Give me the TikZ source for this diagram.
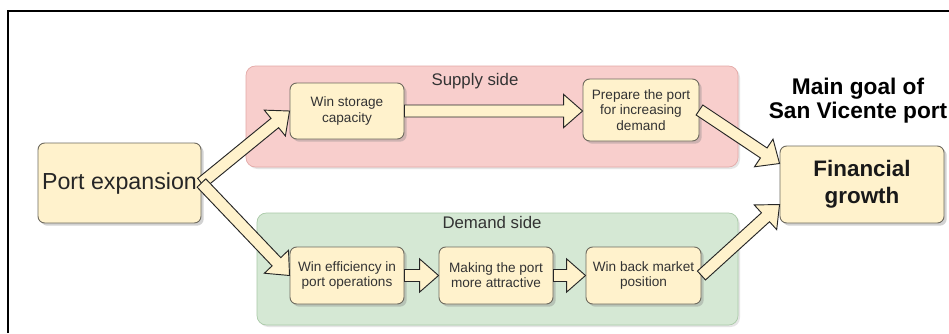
\documentclass[tikz,border=0pt]{standalone}
\usepackage{fontspec}
\setmainfont{Liberation Sans}
\usetikzlibrary{calc,shadows}
\definecolor{boxfill}{HTML}{FFF2CC}
\definecolor{boxline}{HTML}{6E6A5E}
\definecolor{pinkfill}{HTML}{F8CECC}
\definecolor{pinkline}{HTML}{E3A9A7}
\definecolor{greenfill}{HTML}{D5E8D4}
\definecolor{greenline}{HTML}{A9C9A7}
\definecolor{txt}{HTML}{333333}
\tikzset{
  region/.style={rounded corners=7pt, line width=0.5pt,
    drop shadow={shadow xshift=1.5pt, shadow yshift=-1.5pt, opacity=0.25, fill=black!40}},
  stepbox/.style={draw=boxline, fill=boxfill, rounded corners=5pt, line width=0.7pt,
    align=center, text=txt, inner sep=2pt,
    drop shadow={shadow xshift=2pt, shadow yshift=-2pt, opacity=0.35, fill=black!50}},
  smalltext/.style={font=\fontsize{10.2}{11.4}\selectfont},
  bigarrow/.style={draw=black!85, fill=boxfill, line width=0.7pt, line join=miter},
}
\newcommand\blockarr[2]{%
  \path (#1) coordinate (ba-s) (#2) coordinate (ba-e);
  \path ($(ba-e)!14.25pt!(ba-s)$) coordinate (ba-m);
  \draw[bigarrow] ($(ba-s)!4.5pt!90:(ba-e)$) -- ($(ba-m)!4.5pt!90:(ba-e)$)
    -- ($(ba-m)!12.5pt!90:(ba-e)$) -- (ba-e) -- ($(ba-m)!12.5pt!-90:(ba-e)$)
    -- ($(ba-m)!4.5pt!-90:(ba-e)$) -- ($(ba-s)!4.5pt!-90:(ba-e)$) -- cycle;
}
\begin{document}
\begin{tikzpicture}[x=0.75pt,y=-0.75pt]
\useasboundingbox (0,0) rectangle (949,333);
\fill[white] (0,0) rectangle (949,333);
\draw[line width=1.3pt] (8,333) -- (8,11) -- (949,11);

% regions
\node[region, draw=pinkline, fill=pinkfill, minimum width=492*0.75pt, minimum height=101*0.75pt] (sup) at (492,116.5) {};
\node[region, draw=greenline, fill=greenfill, minimum width=481*0.75pt, minimum height=112*0.75pt] (dem) at (497.5,269) {};
\node[text=txt, font=\fontsize{12.6}{14}\selectfont] (suplab) at (475,81) {Supply side};
\node[text=txt, font=\fontsize{12.6}{14}\selectfont] (demlab) at (492,222) {Demand side};

% boxes
\node[stepbox, minimum width=163*0.75pt, minimum height=80*0.75pt, font=\fontsize{17.4}{20}\selectfont, text=black!85] (pe) at (119.5,183) {Port expansion};
\node[stepbox, smalltext, minimum width=114*0.75pt, minimum height=56*0.75pt] (ws) at (347,111) {Win storage\\capacity};
\node[stepbox, smalltext, minimum width=116*0.75pt, minimum height=62*0.75pt] (pr) at (641,110) {Prepare the port\\for increasing\\demand};
\node[stepbox, smalltext, minimum width=114*0.75pt, minimum height=57*0.75pt] (we) at (347,275.5) {Win efficiency in\\port operations};
\node[stepbox, smalltext, minimum width=114*0.75pt, minimum height=57*0.75pt] (mk) at (496,275.5) {Making the port\\more attractive};
\node[stepbox, smalltext, minimum width=115*0.75pt, minimum height=57*0.75pt] (wb) at (643.5,275.5) {Win back market\\position};
\node[stepbox, minimum width=164*0.75pt, minimum height=77*0.75pt, font=\bfseries\fontsize{16.8}{20.25}\selectfont, text=black!90] (fg) at (862,184.5) {Financial\\growth};
\node[align=center, font=\bfseries\fontsize{17}{18}\selectfont] (goal) at (858,101) {Main goal of\\San Vicente port};

% connectors
\coordinate (fgtop) at ($(fg.west)+(0,-21)$);
\coordinate (fgbot) at ($(fg.west)+(0,20)$);
\blockarr{pe.east}{ws.west}
\blockarr{pe.east}{we.west}
\blockarr{ws.east}{pr.west |- ws.east}
\blockarr{pr.east}{fgtop}
\blockarr{wb.east}{fgbot}
\blockarr{we.east}{mk.west}
\blockarr{mk.east}{wb.west}
\end{tikzpicture}
\end{document}
